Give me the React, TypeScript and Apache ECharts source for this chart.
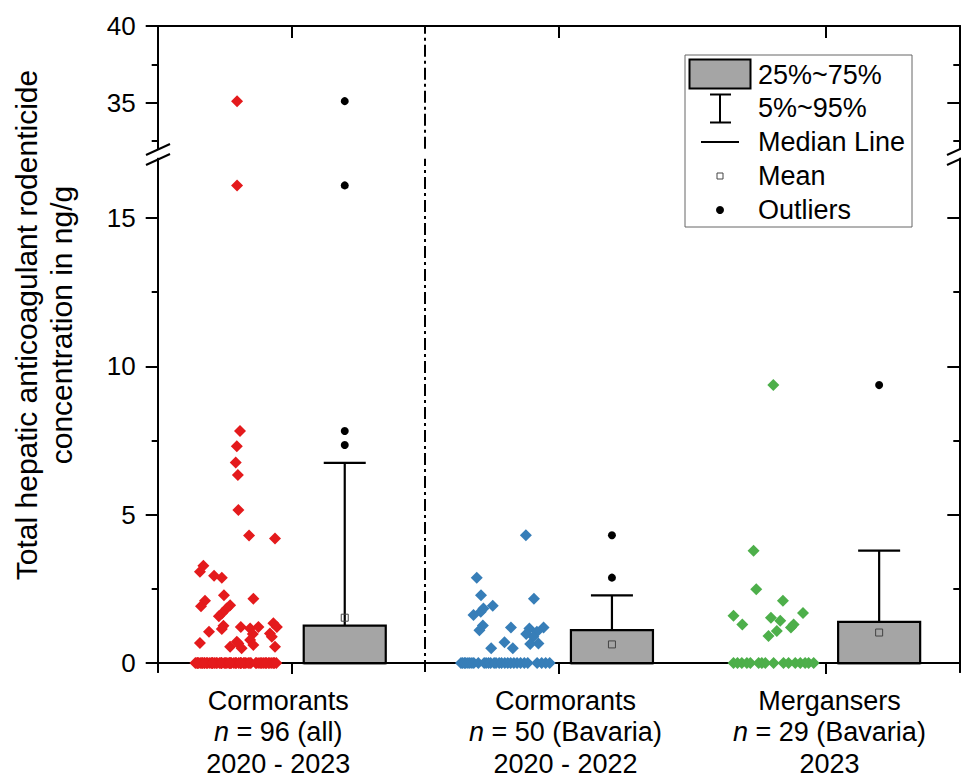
import React, { useEffect, useRef } from "react";
import * as echarts from "echarts";

// ---------- data ----------
const categoryNames = ["Cormorants", "Cormorants", "Mergansers"];
const sampleSizes = ["96 (all)", "50 (Bavaria)", "29 (Bavaria)"];
const periods = ["2020 - 2023", "2020 - 2022", "2023"];
const categoryCenters = [0.5, 1.5, 2.5];
const labelPositions = [0.451, 1.526, 2.514];
const boxPositions = [0.7, 1.7, 2.7];

// box statistics (ng/g)
const q1 = [0, 0, 0];
const q3 = [1.26, 1.11, 1.39];
const median = [0, 0, 0];
const p5 = [0, 0, 0];
const p95 = [6.75, 2.28, 3.79];
const means = [1.53, 0.63, 1.03];
const outlierX = [0.7, 0.7, 0.7, 0.7, 1.7, 1.7, 2.7];
const outlierValues = [7.35, 7.82, 16.1, 35.1, 2.88, 4.31, 9.37];

// individual samples: jittered x (axis units) and concentration
const redJitter = [
  0.297, 0.297, 0.308, 0.296, 0.292, 0.3, 0.302, 0.342, 0.439, 0.171, 0.158, 0.211, 0.24, 0.248,
  0.358, 0.177, 0.162, 0.271, 0.258, 0.24, 0.229, 0.246, 0.24, 0.192, 0.158, 0.311, 0.346, 0.377,
  0.356, 0.346, 0.358, 0.302, 0.314, 0.271, 0.296, 0.433, 0.446, 0.42, 0.427, 0.439,
  0.141, 0.147, 0.152, 0.159, 0.165, 0.168, 0.176, 0.183, 0.187, 0.195, 0.201, 0.205, 0.213,
  0.219, 0.222, 0.231, 0.237, 0.24, 0.249, 0.254, 0.259, 0.267, 0.272, 0.276, 0.285, 0.291,
  0.294, 0.303, 0.309, 0.312, 0.321, 0.326, 0.33, 0.339, 0.345, 0.349, 0.367, 0.371, 0.379,
  0.386, 0.39, 0.397, 0.403, 0.407, 0.415, 0.42, 0.427, 0.433, 0.437, 0.444, 0.149, 0.174,
  0.206, 0.238, 0.27, 0.311,
];
const redValues = [
  35.1, 16.1, 7.82, 7.31, 6.76, 6.34, 5.16, 4.3, 4.2, 3.28, 3.08, 2.94, 2.88, 2.29, 2.17, 2.1,
  1.92, 1.95, 1.84, 1.67, 1.58, 1.26, 1.15, 1.06, 0.68, 1.22, 1.17, 1.22, 0.98, 0.78, 0.61, 0.66,
  0.5, 0.55, 0.72, 1.34, 1.22, 1.0, 0.89, 0.55,
  0, 0, 0, 0, 0, 0, 0, 0, 0, 0, 0, 0, 0, 0, 0, 0, 0, 0, 0, 0, 0, 0, 0, 0, 0, 0, 0, 0, 0, 0, 0,
  0, 0, 0, 0, 0, 0, 0, 0, 0, 0, 0, 0, 0, 0, 0, 0, 0, 0, 0, 0, 0, 0, 0, 0, 0,
];
const blueJitter = [
  1.378, 1.194, 1.21, 1.408, 1.254, 1.219, 1.209, 1.182, 1.217, 1.204, 1.322, 1.444, 1.391,
  1.419, 1.379, 1.406, 1.425, 1.394, 1.298, 1.248, 1.329,
  1.135, 1.141, 1.148, 1.153, 1.161, 1.168, 1.176, 1.183, 1.2, 1.222, 1.229, 1.238, 1.246,
  1.259, 1.266, 1.278, 1.287, 1.299, 1.31, 1.321, 1.333, 1.345, 1.358, 1.372, 1.385, 1.42,
  1.437, 1.452, 1.467,
];
const blueValues = [
  4.31, 2.88, 2.29, 2.17, 1.93, 1.84, 1.73, 1.62, 1.27, 1.11, 1.2, 1.2, 1.17, 1.06, 0.98, 0.89,
  0.66, 0.64, 0.7, 0.5, 0.5,
  0, 0, 0, 0, 0, 0, 0, 0, 0, 0, 0, 0, 0, 0, 0, 0, 0, 0, 0, 0, 0, 0, 0, 0, 0, 0, 0, 0, 0,
];
const greenJitter = [
  2.304, 2.23, 2.24, 2.34, 2.415, 2.155, 2.295, 2.33, 2.188, 2.38, 2.37, 2.317, 2.286,
  2.155, 2.17, 2.186, 2.205, 2.218, 2.249, 2.261, 2.274, 2.305, 2.342, 2.361, 2.386, 2.405,
  2.423, 2.436, 2.455,
];
const greenValues = [
  9.37, 3.79, 2.49, 2.1, 1.69, 1.6, 1.53, 1.43, 1.3, 1.3, 1.2, 1.08, 0.91,
  0, 0, 0, 0, 0, 0, 0, 0, 0, 0, 0, 0, 0, 0, 0, 0,
];

const upperTicksMajor = [35, 40];
const upperTicksMinor = [32.5, 37.5];
const lowerTicksMajor = [0, 5, 10, 15];
const lowerTicksMinor = [2.5, 7.5, 12.5];
const upperRange = [32, 40];
const lowerRange = [-0.3, 17];
const xRange = [0, 3];
const separatorAt = [1];

const yTitle = "Total hepatic anticoagulant rodenticide\nconcentration in ng/g";
const legendLabels = ["25%~75%", "5%~95%", "Median Line", "Mean", "Outliers"];

// ---------- styling ----------
const FONT = "'Liberation Sans', Arial, Helvetica, sans-serif";
const RED = "#E41A1C";
const BLUE = "#377EB8";
const GREEN = "#4DAF4A";
const BOX_FILL = "#A5A5A5";
const BOX_HALF = 0.1535;
const CAP = 21;

function pairs(xs: number[], ys: number[], keep: (v: number) => boolean) {
  const out: number[][] = [];
  for (let i = 0; i < xs.length; i++) if (keep(ys[i])) out.push([xs[i], ys[i]]);
  return out;
}

const isLower = (v: number) => v <= lowerRange[1];
const isUpper = (v: number) => v >= upperRange[0];

export default function App() {
  const ref = useRef<HTMLDivElement>(null);

  useEffect(() => {
    if (!ref.current) return;
    const chart = echarts.init(ref.current, undefined, { renderer: "svg" });
    const axisLine = { show: true, lineStyle: { color: "#000", width: 2 } };
    const tickStyle = { color: "#000", width: 2 };

    const yAxesFor = (grid: number, range: number[], major: number[], minor: number[]) => [
      {
        gridIndex: grid, type: "value", position: "left", min: range[0], max: range[1],
        axisLine, splitLine: { show: false },
        axisTick: { show: true, inside: false, length: 12, customValues: major, lineStyle: tickStyle },
        axisLabel: { show: true, customValues: major, color: "#000", fontSize: 26, fontFamily: FONT, margin: 22 },
      },
      {
        gridIndex: grid, type: "value", position: "left", min: range[0], max: range[1],
        axisLine, splitLine: { show: false },
        axisTick: { show: true, inside: false, length: 6, customValues: minor, lineStyle: tickStyle },
        axisLabel: { show: false },
      },
      {
        gridIndex: grid, type: "value", position: "right", min: range[0], max: range[1],
        axisLine, splitLine: { show: false },
        axisTick: { show: true, inside: true, length: 12, customValues: major, lineStyle: tickStyle },
        axisLabel: { show: false },
      },
      {
        gridIndex: grid, type: "value", position: "right", min: range[0], max: range[1],
        axisLine, splitLine: { show: false },
        axisTick: { show: true, inside: true, length: 6, customValues: minor, lineStyle: tickStyle },
        axisLabel: { show: false },
      },
    ];

    const sepLine = {
      silent: true,
      symbol: ["none", "none"],
      label: { show: false },
      emphasis: { disabled: true },
      lineStyle: { color: "#000", width: 2, type: [12, 4, 3, 4], opacity: 1 },
      data: separatorAt.map((v) => ({ xAxis: v })),
    };

    const diamond = (color: string) => ({
      symbol: "diamond",
      symbolSize: 12,
      itemStyle: { color, opacity: 1 },
      emphasis: { disabled: true },
    });

    const boxData = boxPositions.map((x, i) => [x, q1[i], q3[i], median[i], p5[i], p95[i]]);

    const textX = 758;
    const legendText = (text: string, y: number) => ({
      type: "text",
      x: textX,
      y,
      z: 21,
      style: { text, fill: "#000", font: `27px ${FONT}`, textAlign: "left", textVerticalAlign: "middle" },
    });
    const blk = { stroke: "#000", lineWidth: 2 };

    const option: any = {
      animation: false,
      backgroundColor: "#fff",
      grid: [
        { left: 157.7, right: 1.7, top: 26, height: 122.7, containLabel: false, outerBoundsMode: "none" },
        { left: 157.7, right: 1.7, top: 158.7, bottom: 110, containLabel: false, outerBoundsMode: "none" },
      ],
      xAxis: [
        {
          gridIndex: 0, type: "value", position: "top", min: xRange[0], max: xRange[1],
          axisLine, splitLine: { show: false },
          axisTick: { show: true, inside: true, length: 12, customValues: categoryCenters, lineStyle: tickStyle },
          axisLabel: { show: false },
        },
        {
          gridIndex: 1, type: "value", position: "bottom", min: xRange[0], max: xRange[1],
          axisLine, splitLine: { show: false },
          axisTick: { show: true, inside: false, length: 11, customValues: categoryCenters, lineStyle: tickStyle },
          axisLabel: {
            show: true,
            customValues: labelPositions,
            margin: 13,
            color: "#000",
            fontSize: 27,
            fontFamily: FONT,
            lineHeight: 31.5,
            formatter: (v: number) => {
              const i = Math.floor(v);
              return `${categoryNames[i]}\n{i|n} = ${sampleSizes[i]}\n${periods[i]}`;
            },
            rich: {
              i: { fontStyle: "italic", fontSize: 27, fontFamily: FONT, color: "#000", lineHeight: 31.5 },
            },
          },
        },
      ],
      yAxis: [
        ...yAxesFor(0, upperRange, upperTicksMajor, upperTicksMinor),
        ...yAxesFor(1, lowerRange, lowerTicksMajor, lowerTicksMinor),
      ],
      series: [
        {
          type: "scatter", name: "red-lower", xAxisIndex: 1, yAxisIndex: 4,
          data: pairs(redJitter, redValues, isLower), ...diamond(RED), markLine: sepLine,
        },
        {
          type: "scatter", name: "red-upper", xAxisIndex: 0, yAxisIndex: 0,
          data: pairs(redJitter, redValues, isUpper), ...diamond(RED), markLine: sepLine,
        },
        {
          type: "scatter", name: "blue", xAxisIndex: 1, yAxisIndex: 4,
          data: pairs(blueJitter, blueValues, isLower), ...diamond(BLUE),
        },
        {
          type: "scatter", name: "green", xAxisIndex: 1, yAxisIndex: 4,
          data: pairs(greenJitter, greenValues, isLower), ...diamond(GREEN),
        },
        {
          type: "custom", name: "box", xAxisIndex: 1, yAxisIndex: 4,
          encode: { x: 0, y: [1, 2, 5] },
          data: boxData,
          renderItem: (_params: any, api: any) => {
            const x = api.value(0);
            const lo = api.value(1);
            const hi = api.value(2);
            const med = api.value(3);
            const w5 = api.value(4);
            const w95 = api.value(5);
            const tl = api.coord([x - BOX_HALF, hi]);
            const br = api.coord([x + BOX_HALF, lo]);
            const cx = api.coord([x, hi])[0];
            const topY = api.coord([x, w95])[1];
            const botY = api.coord([x, w5])[1];
            const medY = api.coord([x, med])[1];
            const ls = { stroke: "#000", lineWidth: 2.2, fill: "none" };
            const children: any[] = [
              { type: "line", shape: { x1: cx, y1: tl[1], x2: cx, y2: topY }, style: ls },
              { type: "line", shape: { x1: cx - CAP, y1: topY, x2: cx + CAP, y2: topY }, style: ls },
            ];
            if (w5 < lo) {
              children.push({ type: "line", shape: { x1: cx, y1: br[1], x2: cx, y2: botY }, style: ls });
              children.push({ type: "line", shape: { x1: cx - CAP, y1: botY, x2: cx + CAP, y2: botY }, style: ls });
            }
            children.push({
              type: "rect",
              shape: { x: tl[0], y: tl[1], width: br[0] - tl[0], height: br[1] - tl[1] },
              style: { fill: BOX_FILL, stroke: "#000", lineWidth: 2.2 },
            });
            children.push({ type: "line", shape: { x1: tl[0], y1: medY, x2: br[0], y2: medY }, style: ls });
            return { type: "group", children };
          },
        },
        {
          type: "scatter", name: "mean", xAxisIndex: 1, yAxisIndex: 4,
          data: boxPositions.map((x, i) => [x, means[i]]),
          symbol: "rect", symbolSize: 7, z: 5,
          itemStyle: { color: "rgba(0,0,0,0)", borderColor: "#444", borderWidth: 1, opacity: 1 },
          emphasis: { disabled: true },
        },
        {
          type: "scatter", name: "outliers-lower", xAxisIndex: 1, yAxisIndex: 4,
          data: pairs(outlierX, outlierValues, isLower),
          symbol: "circle", symbolSize: 8, itemStyle: { color: "#000", opacity: 1 }, emphasis: { disabled: true },
        },
        {
          type: "scatter", name: "outliers-upper", xAxisIndex: 0, yAxisIndex: 0,
          data: pairs(outlierX, outlierValues, isUpper),
          symbol: "circle", symbolSize: 8, itemStyle: { color: "#000", opacity: 1 }, emphasis: { disabled: true },
        },
      ],
      graphic: [
        // axis break marks
        { type: "line", shape: { x1: 146, y1: 155, x2: 170, y2: 144 }, style: blk },
        { type: "line", shape: { x1: 146, y1: 165, x2: 170, y2: 154 }, style: blk },
        { type: "line", shape: { x1: 947, y1: 155, x2: 971, y2: 144 }, style: blk },
        { type: "line", shape: { x1: 947, y1: 165, x2: 971, y2: 154 }, style: blk },
        // y-axis title
        {
          type: "text",
          x: 44,
          y: 325,
          rotation: Math.PI / 2,
          style: {
            text: yTitle,
            fill: "#000",
            font: `30px ${FONT}`,
            lineHeight: 35,
            textAlign: "center",
            textVerticalAlign: "middle",
          },
        },
        // legend
        {
          type: "rect", z: 20,
          shape: { x: 685, y: 55, width: 227, height: 172 },
          style: { fill: "#fff", stroke: "#666", lineWidth: 1 },
        },
        { type: "rect", z: 21, shape: { x: 689.5, y: 59.5, width: 61, height: 29 }, style: { fill: BOX_FILL, stroke: "#000", lineWidth: 2 } },
        { type: "line", z: 21, shape: { x1: 720, y1: 94.5, x2: 720, y2: 122.5 }, style: blk },
        { type: "line", z: 21, shape: { x1: 710, y1: 94.5, x2: 731, y2: 94.5 }, style: blk },
        { type: "line", z: 21, shape: { x1: 710, y1: 122.5, x2: 731, y2: 122.5 }, style: blk },
        { type: "line", z: 21, shape: { x1: 701, y1: 142, x2: 739, y2: 142 }, style: blk },
        { type: "rect", z: 21, shape: { x: 717, y: 173, width: 6, height: 6 }, style: { fill: "#fff", stroke: "#444", lineWidth: 1 } },
        { type: "circle", z: 21, shape: { cx: 720, cy: 210, r: 4 }, style: { fill: "#000" } },
        legendText(legendLabels[0], 75),
        legendText(legendLabels[1], 108),
        legendText(legendLabels[2], 142),
        legendText(legendLabels[3], 176),
        legendText(legendLabels[4], 210),
      ],
    };

    chart.setOption(option);
    return () => chart.dispose();
  }, []);

  return (
    <div
      ref={ref}
      style={{ position: "fixed", left: 0, top: 0, width: 961, height: 782, background: "#fff" }}
    />
  );
}
